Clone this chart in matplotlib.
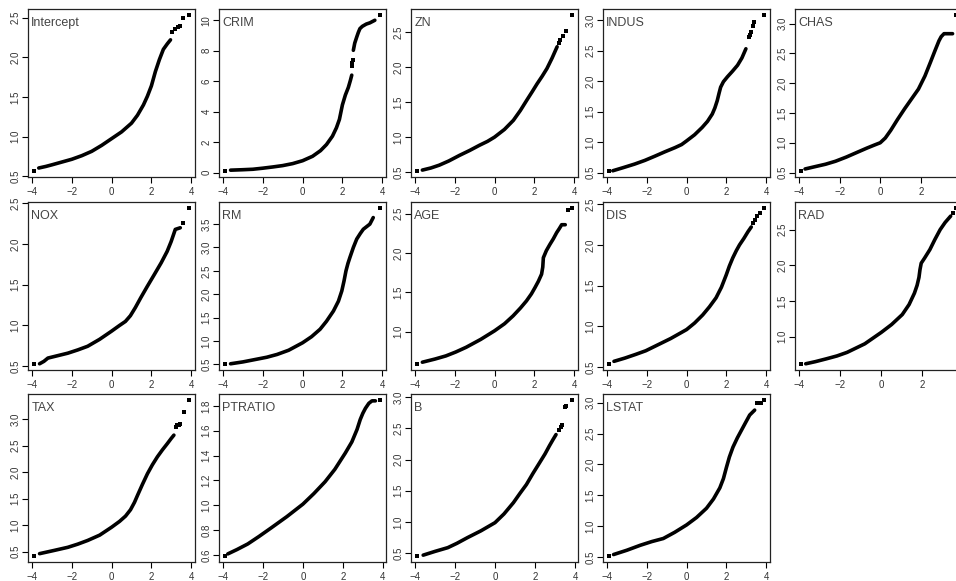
import matplotlib
matplotlib.use("Agg")
import matplotlib.pyplot as plt
from matplotlib.ticker import MultipleLocator, FuncFormatter

plt.rcParams['font.family'] = ['Liberation Sans', 'DejaVu Sans']

# ---- data (theoretical quantile, sample quantile) ----
names = ["Intercept", "CRIM", "ZN", "INDUS", "CHAS",
         "NOX", "RM", "AGE", "DIS", "RAD",
         "TAX", "PTRATIO", "B", "LSTAT"]

intercept_q = [-3.66, -3.3, -3.0, -2.5, -2.0, -1.5, -1.0, -0.5, 0, 0.5, 1.0, 1.3, 1.6, 1.8, 2.0, 2.2, 2.4, 2.6, 2.8, 2.96]
intercept_v = [0.605, 0.625, 0.645, 0.68, 0.715, 0.76, 0.815, 0.89, 0.975, 1.06, 1.17, 1.27, 1.40, 1.51, 1.64, 1.82, 1.97, 2.10, 2.17, 2.22]
intercept_tq = [-3.89, 3.04, 3.2, 3.35, 3.46, 3.6, 3.88]
intercept_tv = [0.57, 2.32, 2.36, 2.38, 2.39, 2.5, 2.53]

crim_q = [-3.62, -3, -2.5, -2, -1.5, -1, -0.5, 0, 0.5, 0.9, 1.2, 1.5, 1.7, 1.85, 2.0, 2.15, 2.3, 2.4, 2.47]
crim_v = [0.17, 0.2, 0.23, 0.3, 0.38, 0.47, 0.6, 0.79, 1.08, 1.45, 1.85, 2.4, 2.95, 3.5, 4.45, 5.1, 5.6, 6.05, 6.4]
crim_q2 = [2.55, 2.62, 2.72, 2.8, 2.88, 3.0, 3.2, 3.38, 3.63]
crim_v2 = [8.03, 8.5, 8.9, 9.2, 9.45, 9.6, 9.75, 9.83, 10.0]
crim_tq = [-3.89, 2.5, 2.5, 2.52, 3.88]
crim_tv = [0.13, 7.0, 7.2, 7.4, 10.33]

zn_q = [-3.63, -3.2, -2.78, -2.3, -1.76, -1.25, -0.75, -0.35, 0, 0.5, 0.95, 1.3, 1.63, 1.9, 2.14, 2.4, 2.64, 2.9, 3.15]
zn_v = [0.53, 0.56, 0.6, 0.66, 0.74, 0.81, 0.885, 0.94, 1.0, 1.11, 1.24, 1.38, 1.53, 1.65, 1.76, 1.87, 1.98, 2.13, 2.29]
zn_tq = [-3.89, 3.25, 3.32, 3.45, 3.58, 3.89]
zn_tv = [0.52, 2.34, 2.38, 2.45, 2.52, 2.74]

indus_q = [-3.71, -3.2, -2.61, -2.1, -1.59, -1.1, -0.58, -0.25, 0, 0.4, 0.78, 1.05, 1.29, 1.42, 1.54, 1.63, 1.71, 1.85, 2.05, 2.3, 2.56, 2.78, 2.98]
indus_v = [0.53, 0.58, 0.64, 0.70, 0.77, 0.84, 0.91, 0.96, 1.02, 1.12, 1.24, 1.34, 1.46, 1.56, 1.68, 1.80, 1.90, 1.99, 2.07, 2.16, 2.26, 2.38, 2.53]
indus_tq = [-3.89, 3.12, 3.18, 3.24, 3.33, 3.41, 3.88]
indus_tv = [0.53, 2.72, 2.76, 2.81, 2.9, 2.97, 3.08]

chas_q = [-3.7, -3.2, -2.69, -2.2, -1.67, -1.2, -0.66, -0.3, 0, 0.25, 0.52, 0.85, 1.2, 1.55, 1.88, 2.2, 2.47, 2.7, 2.89, 3.0, 3.14, 3.56]
chas_v = [0.56, 0.6, 0.64, 0.69, 0.76, 0.83, 0.91, 0.96, 1.0, 1.08, 1.21, 1.39, 1.57, 1.74, 1.9, 2.12, 2.35, 2.55, 2.71, 2.78, 2.83, 2.83]
chas_tq = [-3.89, 3.72]
chas_tv = [0.53, 3.14]

nox_q = [-3.62, -3.4, -3.2, -2.7, -2.2, -1.7, -1.2, -0.6, 0, 0.4, 0.7, 0.95, 1.2, 1.47, 1.8, 2.14, 2.5, 2.8, 3.0, 3.21, 3.46]
nox_v = [0.53, 0.56, 0.60, 0.63, 0.66, 0.70, 0.745, 0.83, 0.93, 1.0, 1.05, 1.12, 1.22, 1.34, 1.48, 1.62, 1.77, 1.91, 2.03, 2.18, 2.2]
nox_tq = [-3.89, 3.6, 3.89]
nox_tv = [0.53, 2.26, 2.44]

rm_q = [-3.62, -3.0, -2.28, -1.8, -1.28, -0.7, 0, 0.45, 0.88, 1.2, 1.55, 1.8, 1.97, 2.08, 2.18, 2.28, 2.38, 2.55, 2.72, 2.9, 3.05, 3.2, 3.38, 3.55]
rm_v = [0.51, 0.55, 0.61, 0.65, 0.71, 0.8, 0.96, 1.09, 1.25, 1.42, 1.64, 1.85, 2.07, 2.28, 2.5, 2.66, 2.79, 3.0, 3.18, 3.3, 3.39, 3.44, 3.5, 3.64]
rm_tq = [-3.89, 3.88]
rm_tv = [0.51, 3.84]

age_q = [-3.63, -3.0, -2.45, -1.95, -1.43, -0.7, 0, 0.5, 0.93, 1.3, 1.6, 1.85, 2.03, 2.2, 2.36, 2.42, 2.45, 2.6, 2.78, 2.95, 3.12, 3.25, 3.37, 3.55]
age_v = [0.61, 0.65, 0.69, 0.74, 0.80, 0.9, 1.01, 1.1, 1.2, 1.3, 1.39, 1.48, 1.56, 1.64, 1.73, 1.82, 1.94, 2.03, 2.11, 2.18, 2.26, 2.31, 2.36, 2.36]
age_tq = [-3.89, 3.68, 3.88]
age_tv = [0.59, 2.55, 2.57]

dis_q = [-3.65, -3.1, -2.56, -2.05, -1.55, -0.8, 0, 0.4, 0.81, 1.15, 1.48, 1.75, 1.99, 2.15, 2.32, 2.5, 2.66, 2.88, 3.08, 3.25]
dis_v = [0.57, 0.61, 0.655, 0.70, 0.76, 0.85, 0.96, 1.04, 1.14, 1.24, 1.35, 1.48, 1.63, 1.74, 1.84, 1.93, 2.0, 2.08, 2.16, 2.22]
dis_tq = [-3.89, 3.34, 3.42, 3.55, 3.67, 3.88]
dis_tv = [0.54, 2.27, 2.31, 2.35, 2.39, 2.45]

rad_q = [-3.67, -3.2, -2.66, -2.15, -1.66, -0.8, 0, 0.5, 1.02, 1.35, 1.61, 1.74, 1.83, 1.88, 1.94, 2.1, 2.36, 2.6, 2.86, 3.1, 3.37]
rad_v = [0.62, 0.65, 0.69, 0.73, 0.78, 0.9, 1.06, 1.17, 1.31, 1.45, 1.61, 1.72, 1.83, 1.94, 2.03, 2.1, 2.22, 2.36, 2.5, 2.6, 2.69]
rad_tq = [-3.89, 3.5, 3.62]
rad_tv = [0.62, 2.74, 2.8]

tax_q = [-3.62, -2.9, -2.2, -1.7, -1.2, -0.6, 0, 0.4, 0.7, 0.95, 1.15, 1.3, 1.55, 1.8, 2.05, 2.3, 2.55, 2.8, 3.0, 3.13]
tax_v = [0.46, 0.52, 0.58, 0.64, 0.71, 0.81, 0.96, 1.07, 1.17, 1.29, 1.43, 1.56, 1.77, 1.97, 2.14, 2.29, 2.42, 2.54, 2.64, 2.7]
tax_tq = [-3.89, 3.22, 3.3, 3.38, 3.46, 3.63, 3.88]
tax_tv = [0.42, 2.85, 2.89, 2.9, 2.92, 3.14, 3.36]

ptratio_q = [-3.76, -3.3, -2.76, -2.2, -1.58, -0.8, 0, 0.55, 1.11, 1.6, 2.12, 2.45, 2.71, 2.87, 3.0, 3.13, 3.3, 3.46, 3.63]
ptratio_v = [0.61, 0.645, 0.69, 0.75, 0.82, 0.91, 1.01, 1.095, 1.19, 1.29, 1.42, 1.51, 1.61, 1.69, 1.74, 1.78, 1.82, 1.84, 1.84]
ptratio_tq = [-3.89, 3.85]
ptratio_tv = [0.595, 1.845]

b_q = [-3.59, -3.0, -2.36, -1.9, -1.38, -0.7, 0, 0.45, 0.92, 1.25, 1.57, 1.9, 2.23, 2.5, 2.72, 2.9, 3.05]
b_v = [0.47, 0.53, 0.59, 0.66, 0.75, 0.86, 0.99, 1.13, 1.31, 1.46, 1.6, 1.78, 1.95, 2.09, 2.22, 2.32, 2.40]
b_tq = [-3.89, 3.21, 3.28, 3.34, 3.5, 3.54, 3.84]
b_tv = [0.46, 2.48, 2.52, 2.56, 2.84, 2.86, 2.95]

lstat_q = [-3.67, -3.0, -2.33, -1.75, -1.17, -0.6, 0, 0.5, 1.0, 1.35, 1.67, 1.85, 2.0, 2.15, 2.33, 2.55, 2.75, 2.95, 3.17, 3.42]
lstat_v = [0.54, 0.61, 0.69, 0.75, 0.80, 0.9, 1.02, 1.14, 1.29, 1.44, 1.62, 1.77, 1.95, 2.12, 2.28, 2.43, 2.55, 2.67, 2.80, 2.88]
lstat_tq = [-3.89, 3.55, 3.6, 3.7, 3.75, 3.88]
lstat_tv = [0.52, 2.99, 2.99, 2.99, 2.99, 3.04]

line_q = [intercept_q, crim_q, zn_q, indus_q, chas_q, nox_q, rm_q, age_q,
          dis_q, rad_q, tax_q, ptratio_q, b_q, lstat_q]
line_v = [intercept_v, crim_v, zn_v, indus_v, chas_v, nox_v, rm_v, age_v,
          dis_v, rad_v, tax_v, ptratio_v, b_v, lstat_v]
dot_q = [intercept_tq, crim_tq, zn_tq, indus_tq, chas_tq, nox_tq, rm_tq,
         age_tq, dis_tq, rad_tq, tax_tq, ptratio_tq, b_tq, lstat_tq]
dot_v = [intercept_tv, crim_tv, zn_tv, indus_tv, chas_tv, nox_tv, rm_tv,
         age_tv, dis_tv, rad_tv, tax_tv, ptratio_tv, b_tv, lstat_tv]

ytick_step = [0.5, 2, 0.5, 0.5, 0.5, 0.5, 0.5, 0.5, 0.5, 0.5, 0.5, 0.2, 0.5, 0.5]
ytick_dec = [1, 0, 1, 1, 1, 1, 1, 1, 1, 1, 1, 1, 1, 1]
xticks = [-4, -2, 0, 2, 4]

# ---- layout ----
W, H = 956, 581
fig = plt.figure(figsize=(W / 100, H / 100), dpi=100)
col_left = [28, 219, 411, 603, 795]
row_top = [9, 202, 394]
aw, ah = 167, 168

for i, name in enumerate(names):
    r, c = divmod(i, 5)
    ax = fig.add_axes([col_left[c] / W, 1 - (row_top[r] + ah) / H, aw / W, ah / H])
    ax.plot(line_q[i], line_v[i], color='black', lw=2.6, solid_capstyle='round',
            solid_joinstyle='round')
    if name == "CRIM":
        ax.plot(crim_q2, crim_v2, color='black', lw=2.6, solid_capstyle='round',
                solid_joinstyle='round')
    ax.plot(dot_q[i], dot_v[i], 's', color='black', ms=2.6, mew=0)
    ax.margins(x=0.04, y=0.04)
    # right column runs past the figure edge; its "4" tick is not visible
    ax.set_xticks(xticks if c < 4 else xticks[:-1])
    ax.yaxis.set_major_locator(MultipleLocator(ytick_step[i]))
    d = ytick_dec[i]
    ax.yaxis.set_major_formatter(FuncFormatter(lambda v, p, d=d: f"{v:.{d}f}"))
    ax.tick_params(axis='both', direction='out', length=4, width=0.8,
                   labelsize=7, colors='black', labelcolor='#333333')
    ax.tick_params(axis='x', pad=3)
    ax.tick_params(axis='y', pad=1.5)
    for lab in ax.get_yticklabels():
        lab.set_rotation(90)
        lab.set_va('center')
    for s in ax.spines.values():
        s.set_linewidth(0.9)
        s.set_color('#222222')
    ax.text(0.02, 0.95, name, transform=ax.transAxes, ha='left', va='top',
            fontsize=9, color='#444444')

fig.savefig("out.png", dpi=100)
